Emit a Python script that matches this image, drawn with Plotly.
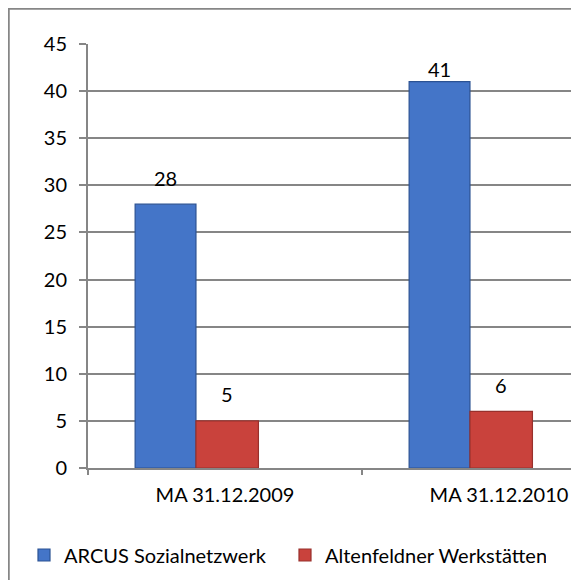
import plotly.graph_objects as go

categories = ["MA 31.12.2009", "MA 31.12.2010"]
series_names = ["ARCUS Sozialnetzwerk", "Altenfeldner Werkstätten"]
arcus_values = [28, 41]
altenfeldner_values = [5, 6]
y_ticks = [0, 5, 10, 15, 20, 25, 30, 35, 40, 45]

FONT = "Lato"
GRAY = "#868686"
# the page body adds an 8px offset, so the figure is sized to the visible window
W, H = 571, 572
ML, MR, MT, MB = 80, 0, 36, 112
PW, PH = W - ML - MR, H - MT - MB
PLOT_BOTTOM = H - MB

x_idx = list(range(len(categories)))
series = [
    dict(name=series_names[0], values=arcus_values, color="#4475c8", line="#2b5293",
         offset=-0.328, width=0.222),
    dict(name=series_names[1], values=altenfeldner_values, color="#c9423c", line="#98302c",
         offset=-0.106, width=0.228),
]
label_gap = [[16, 3], [17, 16]]

fig = go.Figure()
for s in series:
    fig.add_trace(go.Bar(
        x=x_idx, y=s["values"], name=s["name"],
        offset=s["offset"], width=s["width"],
        marker=dict(color=s["color"], line=dict(color=s["line"], width=1.2)),
        xaxis="x", yaxis="y",
    ))

annotations = []
for si, s in enumerate(series):
    for ci, v in enumerate(s["values"]):
        annotations.append(dict(
            x=x_idx[ci] + s["offset"] + s["width"] / 2, y=v, xref="x", yref="y",
            text=str(v), showarrow=False, yanchor="bottom", xanchor="center",
            yshift=label_gap[si][ci] - 4,
            font=dict(family=FONT, size=20, color="#000000"),
        ))

# invisible trace on secondary x axis for category boundary ticks
fig.add_trace(go.Scatter(x=[-0.5], y=[0], xaxis="x2", yaxis="y", mode="markers",
                         marker=dict(opacity=0), showlegend=False, hoverinfo="skip"))

xrange = [-0.5, -0.5 + PW / 274.0]

fig.update_layout(
    width=W, height=H,
    margin=dict(l=ML, r=MR, t=MT, b=MB, pad=0, autoexpand=False),
    paper_bgcolor="white", plot_bgcolor="white",
    barmode="overlay",
    font=dict(family=FONT, size=20, color="#000000"),
    xaxis=dict(
        range=xrange, tickvals=x_idx, ticktext=categories, ticks="",
        showgrid=False, showline=True, linecolor=GRAY, linewidth=2,
        zeroline=False, ticklabelstandoff=8, automargin=False,
        tickfont=dict(family=FONT, size=20, color="#000000"),
    ),
    xaxis2=dict(
        overlaying="x", matches="x", side="bottom", range=xrange,
        tickvals=[-0.5, 0.5, 1.5], ticks="outside", ticklen=6, tickwidth=2,
        tickcolor=GRAY, showticklabels=False, showgrid=False, showline=False,
        zeroline=False, automargin=False,
    ),
    yaxis=dict(
        range=[0, 45], tickvals=y_ticks, ticks="outside", ticklen=7, tickwidth=1.5,
        tickcolor=GRAY, showgrid=True, gridcolor=GRAY, gridwidth=1.5,
        showline=True, linecolor=GRAY, linewidth=2, zeroline=False,
        ticklabelstandoff=8, automargin=False,
        tickfont=dict(family=FONT, size=20, color="#000000"),
    ),
    legend=dict(
        orientation="h", x=(16 - ML) / PW, xanchor="left",
        y=(PLOT_BOTTOM - 547) / PH, yanchor="middle",
        font=dict(family=FONT, size=20, color="#000000"),
        entrywidth=216, entrywidthmode="pixels",
        bgcolor="rgba(0,0,0,0)", borderwidth=0,
        traceorder="normal", itemclick=False,
    ),
    annotations=annotations,
    shapes=[dict(
        type="rect", xref="paper", yref="paper", layer="above",
        x0=(0.5 - ML) / PW, x1=(W + 20 - ML) / PW,
        y0=(PLOT_BOTTOM - (H + 20)) / PH, y1=(PLOT_BOTTOM - 0.5) / PH,
        line=dict(color=GRAY, width=2.5), fillcolor="rgba(0,0,0,0)",
    )],
    showlegend=True,
)

fig.write_html("out.html")
